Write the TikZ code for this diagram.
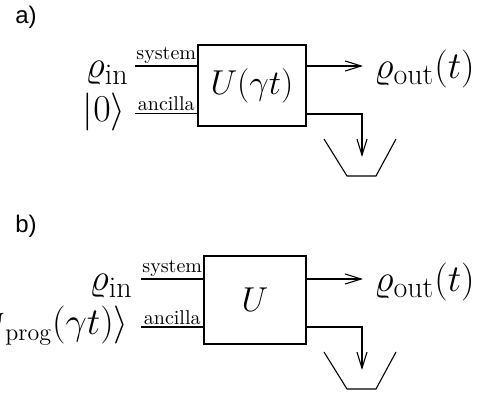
\RequirePackage{fix-cm}
\documentclass[tikz,border=0pt]{standalone}
\usepackage{fontspec}
\newfontfamily\panelfont{Liberation Sans}
\usepackage{amsmath}
\DeclareMathSizes{19}{19}{15}{12}
\usetikzlibrary{positioning, arrows.meta}

\newcommand{\biglbl}{\fontsize{19}{23}\selectfont}

\begin{document}
\begin{tikzpicture}[
    x=0.5pt, y=-0.5pt,
    gate/.style={
        draw,
        line width=0.55pt,
        inner sep=0pt,
        font=\LARGE
    },
    wire/.style={line width=0.55pt},
    arrow/.style={
        -{Straight Barb[length=8pt, width=5pt]},
        line width=0.55pt
    },
    port/.style={font=\normalsize, inner sep=1pt, anchor=south},
    state/.style={inner sep=0pt, font=\biglbl},
    panel/.style={font=\panelfont\fontsize{12}{14}\selectfont}
]
\useasboundingbox (0,0) rectangle (479,395);

% Panel a
\node (laba) [panel] at (26,17.5) {a)};
\node (Ua) [gate, minimum width=54pt, minimum height=40.5pt] at (252,85.5) {$U(\gamma t)$};
\coordinate (sysa) at (135,66);
\coordinate (anca) at (135,113.5);
\node (rhoina) [state, anchor=base east] at (129,78) {$\varrho_{\rm in}$};
\node (zeroa) [state, anchor=base east] at (126,122) {$|0\rangle$};
\node (rhoouta) [state, anchor=base west] at (374,78.5) {$\varrho_{\rm out}(t)$};
\coordinate (deta) at (362,157);

\draw [wire] (sysa) -- (sysa -| Ua.west) node (sysla) [port, midway] {system};
\draw [wire] (anca) -- (anca -| Ua.west) node (ancla) [port, midway] {ancilla};
\draw [arrow, shorten >=5.5pt] (Ua.east |- sysa) -- (rhoouta.west |- sysa);
\draw [arrow] (Ua.east |- 0,114) -| (deta);

% detector cup
\draw [wire] (deta) ++(-38,-18) -- ++(23,37) -- ++(29,0) -- ++(20,-37);

% Panel b
\node (labb) [panel] at (26,226) {b)};
\node (Ub) [gate, minimum width=51pt, minimum height=44pt] at (255,300) {$U$};
\coordinate (sysb) at (141,279);
\coordinate (ancb) at (141,327);
\node (rhoinb) [state, anchor=base east] at (133,291) {$\varrho_{\rm in}$};
\node (progb) [state, anchor=base east] at (129,335) {$|\Psi_{\scriptscriptstyle\rm prog}(\gamma t)\rangle$};
\node (rhooutb) [state, anchor=base west] at (374,291.5) {$\varrho_{\rm out}(t)$};
\coordinate (detb) at (362,370);

\draw [wire] (sysb) -- (sysb -| Ub.west) node (syslb) [port, midway] {system};
\draw [wire] (ancb) -- (ancb -| Ub.west) node (anclb) [port, midway] {ancilla};
\draw [arrow, shorten >=5.5pt] (Ub.east |- sysb) -- (rhooutb.west |- sysb);
\draw [arrow] (Ub.east |- 0,327) -| (detb);

% detector cup
\draw [wire] (detb) ++(-38,-18) -- ++(23,37) -- ++(29,0) -- ++(20,-37);

\end{tikzpicture}
\end{document}
